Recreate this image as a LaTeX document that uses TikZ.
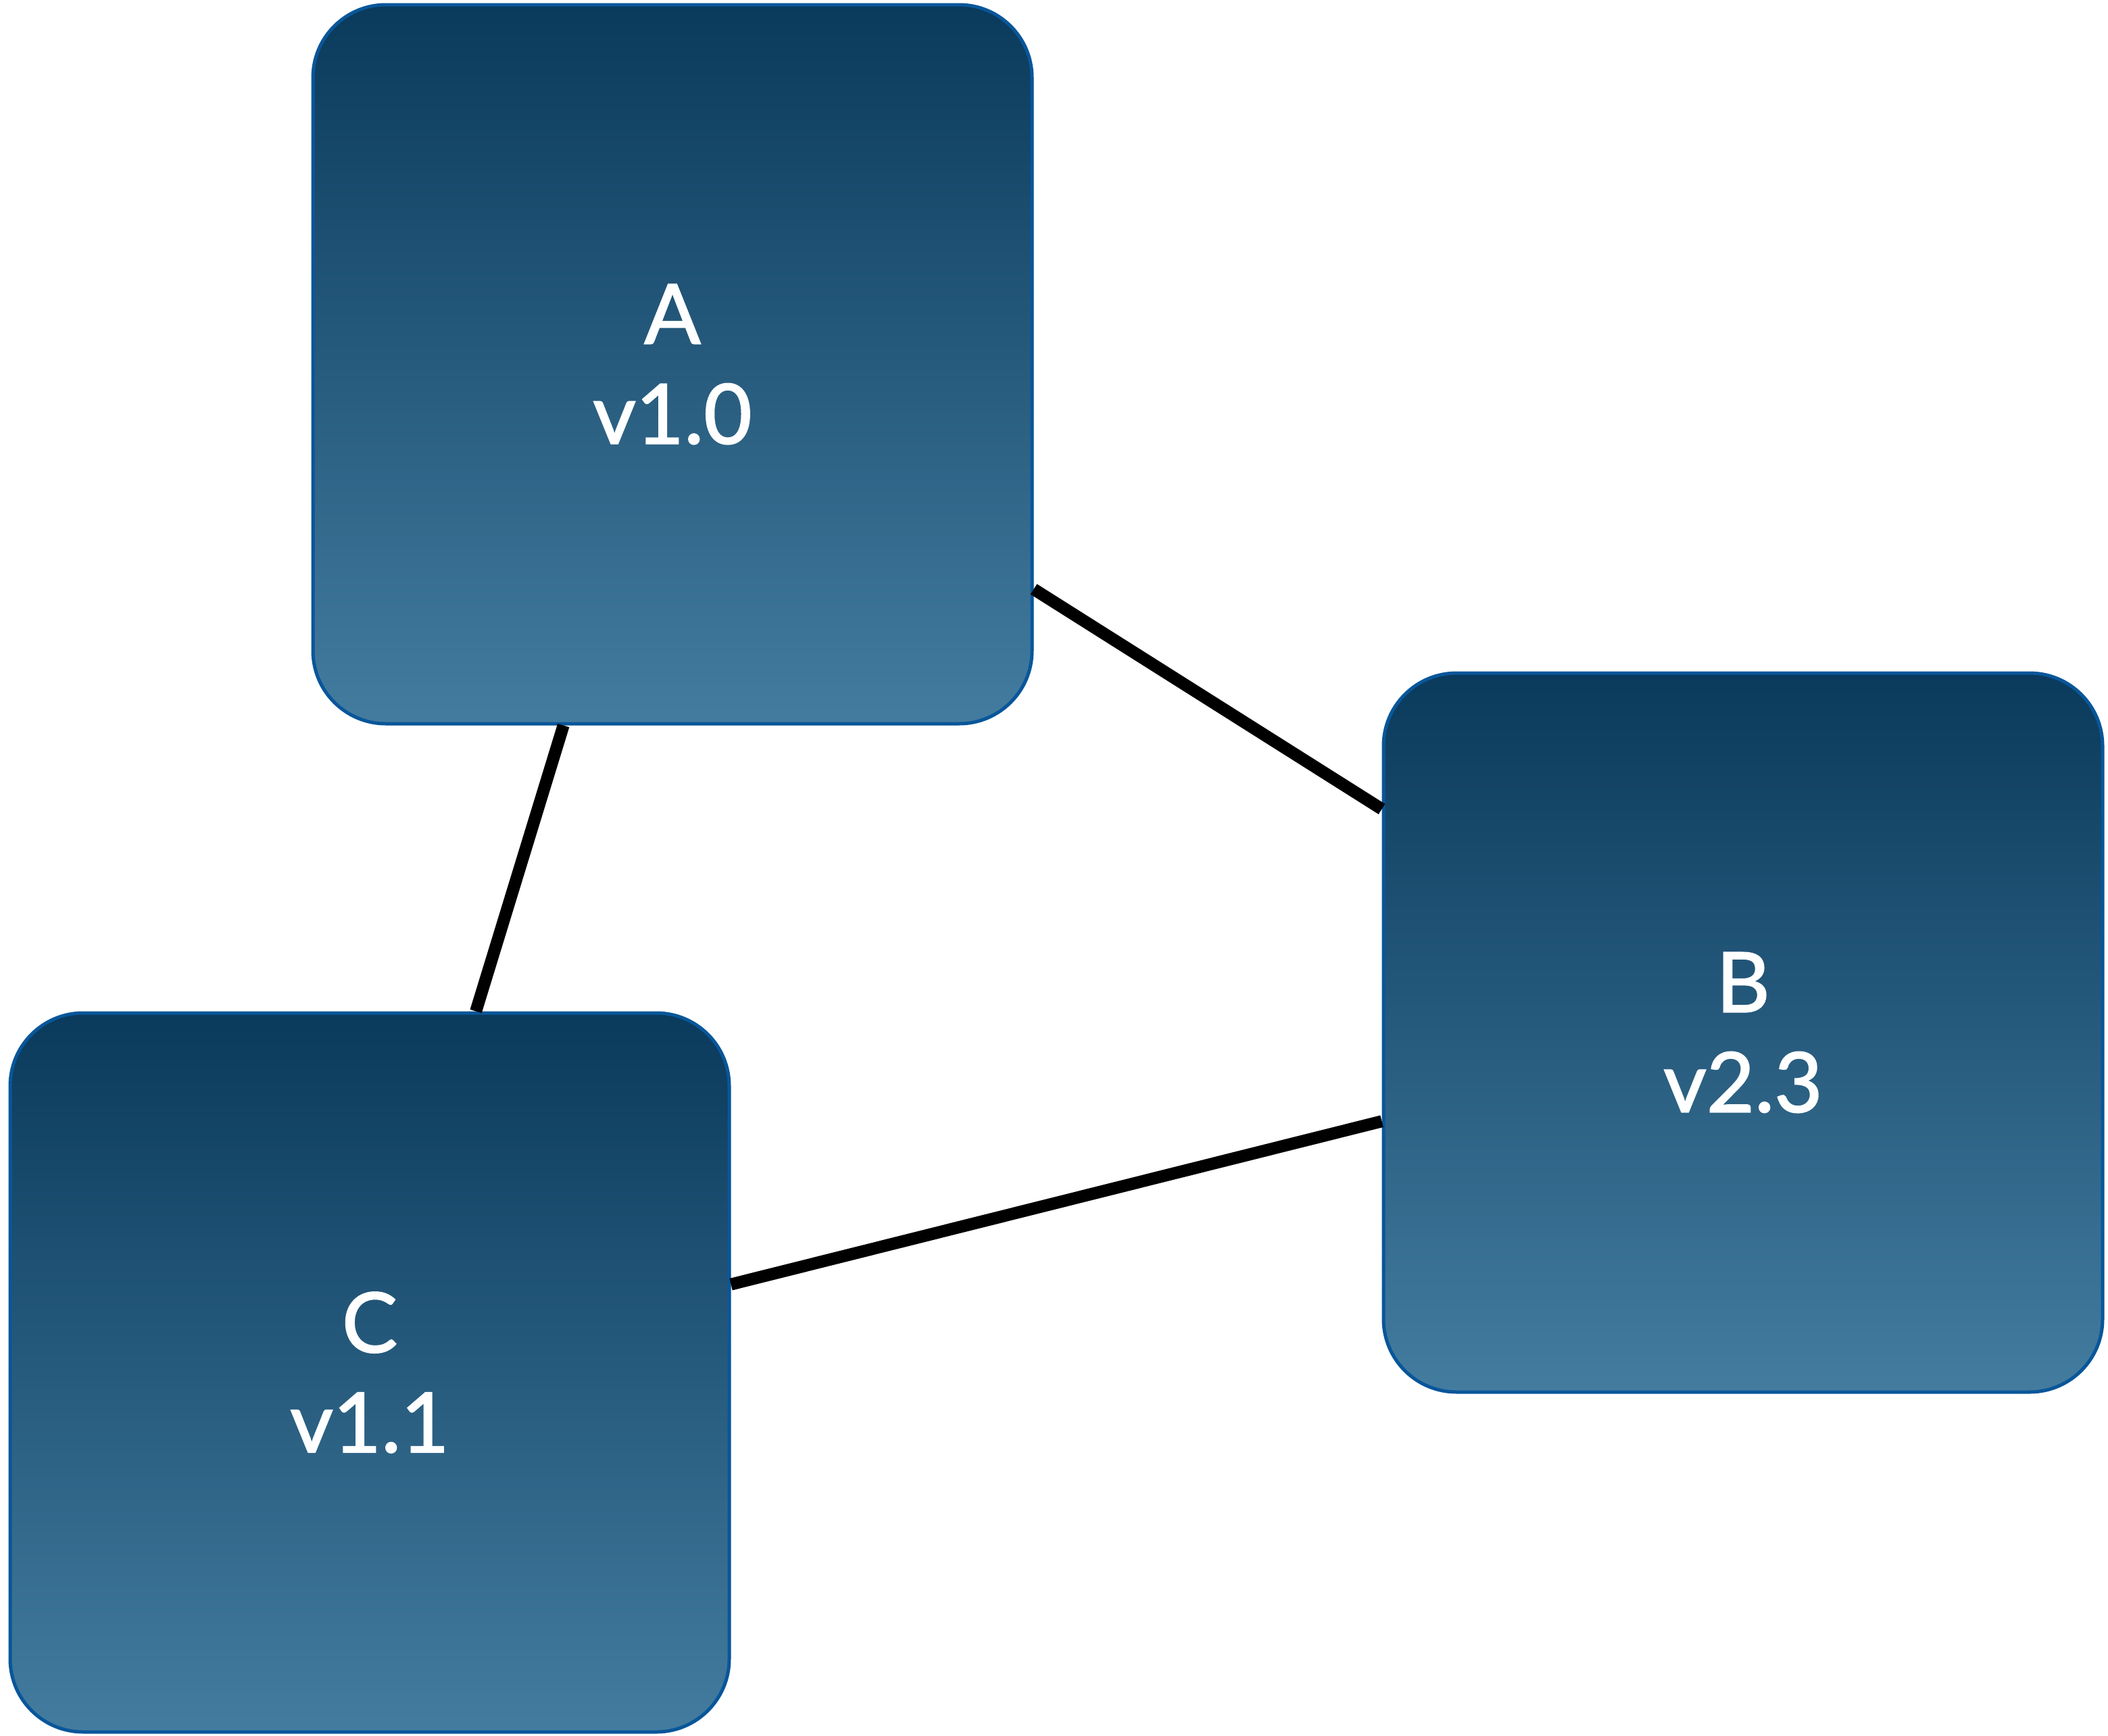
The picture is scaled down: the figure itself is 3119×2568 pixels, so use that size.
\documentclass[tikz,border=0pt]{standalone}
\usepackage{fontspec}
\setmainfont{Lato}
\newfontface\lblfont{Lato}[FakeBold=1.6]
\definecolor{boxtop}{HTML}{0A3A5C}
\definecolor{boxbot}{HTML}{437C9F}
\definecolor{boxedge}{HTML}{08569A}
\tikzset{
  vbox/.style={rectangle, rounded corners=108pt, draw=boxedge, line width=5pt,
    top color=boxtop, bottom color=boxbot, minimum width=1064pt, minimum height=1064pt,
    inner sep=0pt, align=center, text=white,
    font=\lblfont\fontsize{123}{148}\selectfont},
  link/.style={line width=18pt, draw=black, line cap=butt}
}
\begin{document}
\begin{tikzpicture}[x=1pt,y=-1pt]
\useasboundingbox (0,0) rectangle (3119,2568);
\node[vbox] (A) at (995,539) {A\\v1.0};
\node[vbox] (B) at (2579,1528) {B\\v2.3};
\node[vbox] (C) at (547,2031) {C\\v1.1};
\draw[link] (A) -- (B);
\draw[link] (A) -- (C);
\draw[link] (C) -- (B);
\end{tikzpicture}
\end{document}
